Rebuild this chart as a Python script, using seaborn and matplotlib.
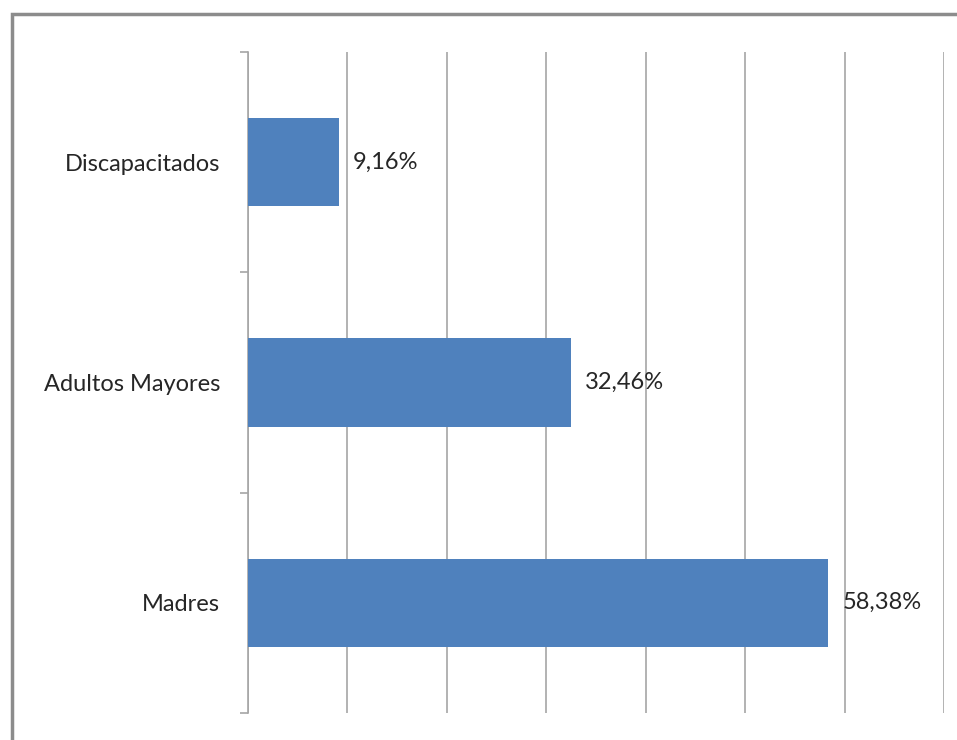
import numpy as np
import pandas as pd
import seaborn as sns
import matplotlib
matplotlib.use("Agg")
import matplotlib.pyplot as plt
from matplotlib.patches import Rectangle

# datos
categorias = ['Discapacitados', 'Adultos Mayores', 'Madres']
porcentajes = [9.16, 32.46, 58.38]
etiquetas = ['9,16%', '32,46%', '58,38%']

sns.set_style("white")
plt.rcParams['font.family'] = ['Lato', 'DejaVu Sans']

df = pd.DataFrame({'cat': categorias, 'pct': porcentajes})

fig = plt.figure(figsize=(9.57, 7.4), dpi=100)
ax = fig.add_axes([248/957, 1 - 713/740, (944 - 248)/957, (713 - 52)/740])

sns.barplot(data=df, x='pct', y='cat', orient='h', color='#4F81BD',
            saturation=1, width=0.4, linewidth=0, ax=ax, zorder=3)

ax.set_xlim(0, 70)
ax.set_ylim(2.5, -0.5)
ax.set_xticks(np.arange(0, 71, 10))
ax.set_xticklabels([])
ax.tick_params(axis='x', length=0)
ax.grid(axis='x', color='#a6a6a6', linewidth=1.2, zorder=0)
ax.set_xlabel('')
ax.set_ylabel('')

ax.set_yticks(range(len(categorias)))
ax.set_yticklabels(categorias, fontsize=17)
ax.tick_params(axis='y', which='major', length=0, pad=20)
ax.set_yticks([-0.5, 0.5, 1.5, 2.5], minor=True)
ax.tick_params(axis='y', which='minor', left=True, length=6, width=1.2,
               color='#a6a6a6')

for s in ['top', 'right', 'bottom']:
    ax.spines[s].set_visible(False)
ax.spines['left'].set_color('#a6a6a6')
ax.spines['left'].set_linewidth(1.2)

for i, (v, t) in enumerate(zip(porcentajes, etiquetas)):
    ax.annotate(t, xy=(v, i), xytext=(10, 0), textcoords='offset points',
                va='center', ha='left', fontsize=17)

# marco exterior
fig.patches.append(Rectangle((12/957, -0.1), 1.0, 1 - 14/740 + 0.1,
                             transform=fig.transFigure, fill=False,
                             edgecolor='#8c8c8c', linewidth=2.5))

fig.savefig('out.png', dpi=100)
